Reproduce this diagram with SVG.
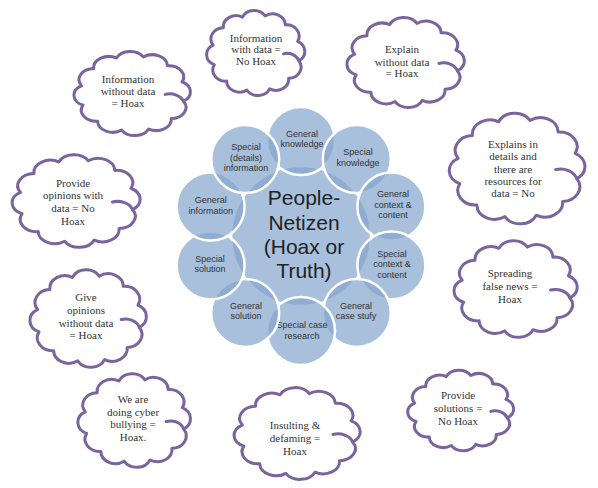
<svg xmlns="http://www.w3.org/2000/svg" xmlns:xlink="http://www.w3.org/1999/xlink" width="598" height="488" viewBox="0 0 598 488">
<style>
.cl{fill:#fff;stroke:#7b649e;stroke-width:3;vector-effect:non-scaling-stroke;stroke-linejoin:round}
.cu{fill:none;stroke:#7b649e;stroke-width:3;vector-effect:non-scaling-stroke;stroke-linecap:round}
.ct{font-size:11px;fill:#333;text-anchor:middle}
.bub{fill:#84a5cd;fill-opacity:0.7;stroke:#fff;stroke-width:2.5}
.bt{font-family:"Liberation Sans",Arial,sans-serif;font-size:9px;fill:#333;text-anchor:middle}
.mt{font-family:"Liberation Sans",Arial,sans-serif;font-size:21px;fill:#222;text-anchor:middle}
</style>
<defs>
<path id="cloud" class="cl" d="M7.9 41.3 A12.5 12.5 0 0 1 18 21.9 A12.5 12.5 0 0 1 36.7 10.1 A12.5 12.5 0 0 1 58.9 8.9 A12.5 12.5 0 0 1 78.8 18.8 A12.5 12.5 0 0 1 90.9 37 A12.5 12.5 0 0 1 92.1 58.7 A12.5 12.5 0 0 1 82 78.1 A12.5 12.5 0 0 1 63.3 89.9 A12.5 12.5 0 0 1 41.1 91.1 A12.5 12.5 0 0 1 21.2 81.2 A12.5 12.5 0 0 1 9.1 63 A12 12 0 0 1 7.9 41.3 Z"/>
<path id="curl" class="cu" d="M77 51 A12 12 0 0 1 92.1 58.7"/>
</defs>

<g id="connectors"></g>

<g id="hub">
<circle class="bub" cx="301" cy="236" r="70"/>
</g>
<g id="n-general-knowledge">
<circle class="bub" cx="301" cy="141" r="34"/>
<text class="bt" x="302" y="136.5">General</text>
<text class="bt" x="302" y="147">knowledge</text>
</g>
<g id="n-special-knowledge">
<circle class="bub" cx="356.8" cy="159.1" r="34"/>
<text class="bt" x="358" y="155">Special</text>
<text class="bt" x="358" y="165.7">knowledge</text>
</g>
<g id="n-general-context">
<circle class="bub" cx="391.4" cy="206.6" r="34"/>
<text class="bt" x="393" y="197.3">General</text>
<text class="bt" x="393" y="207.7">context &amp;</text>
<text class="bt" x="393" y="218.3">content</text>
</g>
<g id="n-special-context">
<circle class="bub" cx="391.4" cy="265.4" r="34"/>
<text class="bt" x="392" y="256.7">Special</text>
<text class="bt" x="392" y="267.3">context &amp;</text>
<text class="bt" x="392" y="278.3">content</text>
</g>
<g id="n-general-case">
<circle class="bub" cx="356.8" cy="312.9" r="34"/>
<text class="bt" x="356" y="309">General</text>
<text class="bt" x="356" y="319.3">case stufy</text>
</g>
<g id="n-special-case">
<circle class="bub" cx="301" cy="331" r="34"/>
<text class="bt" x="302" y="328">Special case</text>
<text class="bt" x="302" y="338.5">research</text>
</g>
<g id="n-general-solution">
<circle class="bub" cx="245.2" cy="312.9" r="34"/>
<text class="bt" x="246" y="309">General</text>
<text class="bt" x="246" y="319.3">solution</text>
</g>
<g id="n-special-solution">
<circle class="bub" cx="210.6" cy="265.4" r="34"/>
<text class="bt" x="210" y="261.7">Special</text>
<text class="bt" x="210" y="272.3">solution</text>
</g>
<g id="n-general-information">
<circle class="bub" cx="210.6" cy="206.6" r="34"/>
<text class="bt" x="210.7" y="202.7">General</text>
<text class="bt" x="210.7" y="214">information</text>
</g>
<g id="n-special-details">
<circle class="bub" cx="245.2" cy="159.1" r="34"/>
<text class="bt" x="246" y="150">Special</text>
<text class="bt" x="246" y="160.7">(details)</text>
<text class="bt" x="246" y="171">information</text>
</g>
<g id="hub-label">
<text class="mt" x="304" y="205">People-</text>
<text class="mt" x="304" y="230">Netizen</text>
<text class="mt" x="304" y="254">(Hoax or</text>
<text class="mt" x="304" y="278">Truth)</text>
</g>

<g id="clouds" font-family="'Liberation Serif', 'Times New Roman', 'DejaVu Serif', serif">
<g id="c-info-with-data">
<use xlink:href="#cloud" transform="translate(205 8) scale(1.02 0.9)"/>
<use xlink:href="#curl" transform="translate(205 8) scale(1.02 0.9)"/>
<text class="ct" x="256" y="41.5">Information</text>
<text class="ct" x="256" y="53">with data =</text>
<text class="ct" x="256" y="64.5">No Hoax</text>
</g>
<g id="c-info-without-data">
<use xlink:href="#cloud" transform="translate(72 49) scale(1.21 0.89)"/>
<use xlink:href="#curl" transform="translate(72 49) scale(1.21 0.89)"/>
<text class="ct" x="128" y="83">Information</text>
<text class="ct" x="128" y="95">without data</text>
<text class="ct" x="128" y="107">= Hoax</text>
</g>
<g id="c-opinions-with-data">
<use xlink:href="#cloud" transform="translate(10 152) scale(1.33 0.98)"/>
<use xlink:href="#curl" transform="translate(10 152) scale(1.33 0.98)"/>
<text class="ct" x="73" y="187">Provide</text>
<text class="ct" x="73" y="199">opinions with</text>
<text class="ct" x="73" y="212">data = No</text>
<text class="ct" x="73" y="224.5">Hoax</text>
</g>
<g id="c-explain-without-data">
<use xlink:href="#cloud" transform="translate(345 15) scale(1.22 0.95)"/>
<use xlink:href="#curl" transform="translate(345 15) scale(1.22 0.95)"/>
<text class="ct" x="402" y="53">Explain</text>
<text class="ct" x="402" y="65.5">without data</text>
<text class="ct" x="402" y="77">= Hoax</text>
</g>
<g id="c-explains-details">
<use xlink:href="#cloud" transform="translate(447 110) scale(1.41 1.17)"/>
<use xlink:href="#curl" transform="translate(447 110) scale(1.41 1.17)"/>
<text class="ct" x="513" y="148">Explains in</text>
<text class="ct" x="513" y="160">details and</text>
<text class="ct" x="513" y="172.5">there are</text>
<text class="ct" x="513" y="184.5">resources for</text>
<text class="ct" x="513" y="197">data = No</text>
</g>
<g id="c-false-news">
<use xlink:href="#cloud" transform="translate(452 238) scale(1.28 1.02)"/>
<use xlink:href="#curl" transform="translate(452 238) scale(1.28 1.02)"/>
<text class="ct" x="510" y="277">Spreading</text>
<text class="ct" x="510" y="290">false news =</text>
<text class="ct" x="510" y="303">Hoax</text>
</g>
<g id="c-solutions">
<use xlink:href="#cloud" transform="translate(406 368) scale(1.1 0.85)"/>
<use xlink:href="#curl" transform="translate(406 368) scale(1.1 0.85)"/>
<text class="ct" x="458" y="399">Provide</text>
<text class="ct" x="458" y="412">solutions =</text>
<text class="ct" x="458" y="425">No Hoax</text>
</g>
<g id="c-insulting">
<use xlink:href="#cloud" transform="translate(232 385) scale(1.31 0.97)"/>
<use xlink:href="#curl" transform="translate(232 385) scale(1.31 0.97)"/>
<text class="ct" x="295" y="429">Insulting &amp;</text>
<text class="ct" x="295" y="442">defaming =</text>
<text class="ct" x="295" y="455">Hoax</text>
</g>
<g id="c-cyber-bullying">
<use xlink:href="#cloud" transform="translate(76 371) scale(1.17 0.99)"/>
<use xlink:href="#curl" transform="translate(76 371) scale(1.17 0.99)"/>
<text class="ct" x="133" y="403">We are</text>
<text class="ct" x="133" y="416">doing cyber</text>
<text class="ct" x="133" y="428">bullying =</text>
<text class="ct" x="133" y="441">Hoax.</text>
</g>
<g id="c-opinions-without-data">
<use xlink:href="#cloud" transform="translate(28 267) scale(1.21 1.03)"/>
<use xlink:href="#curl" transform="translate(28 267) scale(1.21 1.03)"/>
<text class="ct" x="86" y="301">Give</text>
<text class="ct" x="86" y="314">opinions</text>
<text class="ct" x="86" y="327">without data</text>
<text class="ct" x="86" y="339">= Hoax</text>
</g>
</g>
</svg>
